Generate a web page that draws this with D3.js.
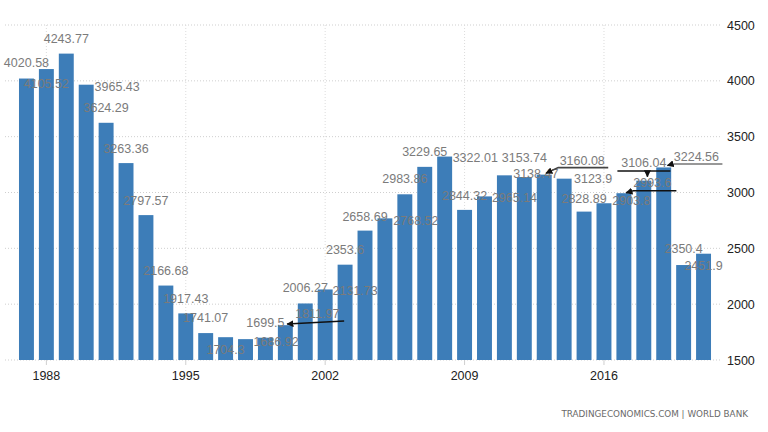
<!DOCTYPE html>
<html>
<head>
<meta charset="utf-8">
<script src="https://d3js.org/d3.v7.min.js"></script>
<style>
    body { margin: 0; background: #fff; }
    svg { display: block; font-family: "Liberation Sans", Arial, sans-serif; }
</style>
</head>
<body>
<div id="chart"></div>
<script>
// yearly values, 1987 - 2021
const years = d3.range(1987, 2022);
const values = [
    4020.58, 4105.52, 4243.77, 3965.43, 3624.29, 3263.36, 2797.57, 2166.68,
    1917.43, 1741.07, 1704.3, 1686.92, 1699.5, 1811.97, 2006.27, 2131.73,
    2353.6, 2658.69, 2768.52, 2983.86, 3229.65, 3322.01, 2844.32, 2965.14,
    3153.74, 3138.47, 3160.08, 3123.9, 2828.89, 2903.8, 2993.6, 3106.04,
    3224.56, 2350.4, 2451.9
];
const yTicks = [1500, 2000, 2500, 3000, 3500, 4000, 4500];
const xTickYears = [1988, 1995, 2002, 2009, 2016];

// where each value label sits relative to its bar top (dx, dy)
const labelShift = [
    [0, -11.5], [0, 19], [0, -10.6], [31, 6], [0, -11], [0, -10.5], [0, -10], [0, -10.6],
    [0, -10.7], [0, -11.4], [0, 17], [30.6, 7], [0, -10.6], [32, -7.5], [0, -11.8], [30, 6],
    [0, -10.7], [0, -10], [31, 6.7], [0, -11], [0, -11], [30.6, 5.8], [0, -9.7], [30, 5.3],
    [20, -13.6], [11.5, 1.3], [38, -9.6], [29, 4.6], [0, -8.3], [27.4, 2], [28.5, -6.5], [0, -14],
    [32.7, -6.7], [0, -11.7], [0, 16]
];

// leader lines, points relative to the bar top centre
const annotations = [
    { year: 2000, pts: [[58.8, -4.2], [1.8, -1.2]], arrow: true, color: "#111" },
    { year: 2013, pts: [[64, -7], [14, -7], [1.8, -1.3]], arrow: true, color: "#444" },
    { year: 2018, pts: [[-26.4, -9.7], [26.6, -9.7]], arrow: false, color: "#111" },
    { year: 2018, pts: [[3.6, -9.7], [3.6, -4]], arrow: true, color: "#111" },
    { year: 2017, pts: [[52.5, -2.5], [9.5, -2.5], [2.2, -0.5]], arrow: true, color: "#111" },
    { year: 2019, pts: [[58.7, -3.4], [8.7, -3.4], [3.7, -1.9]], arrow: true, color: "#777" }
];

const width = 768, height = 432;
const plotLeft = 5, plotRight = 722, plotTop = 25, plotBottom = 360;

const svg = d3.select("#chart").append("svg")
    .attr("width", width)
    .attr("height", height);

const defs = svg.append("defs");
defs.append("marker")
    .attr("id", "head")
    .attr("viewBox", "0 0 10 10")
    .attr("refX", 9).attr("refY", 5)
    .attr("markerWidth", 7).attr("markerHeight", 7)
    .attr("markerUnits", "userSpaceOnUse")
    .attr("orient", "auto")
    .append("path")
    .attr("d", "M0,0 L10,5 L0,10 z")
    .attr("fill", "#111");

const x = d3.scaleBand()
    .domain(years)
    .range([16.5, 713.5])
    .paddingInner(0.25)
    .paddingOuter(0.125);

const y = d3.scaleLinear()
    .domain([1500, 4500])
    .range([plotBottom, plotTop]);

const xc = yr => x(yr) + x.bandwidth() / 2;

// grid
svg.append("g").selectAll("line")
    .data(yTicks)
    .join("line")
    .attr("x1", plotLeft).attr("x2", plotRight)
    .attr("y1", d => y(d)).attr("y2", d => y(d))
    .attr("stroke", "#cfcfcf")
    .attr("stroke-dasharray", "1,2");

svg.append("g").selectAll("line")
    .data(xTickYears)
    .join("line")
    .attr("x1", d => xc(d)).attr("x2", d => xc(d))
    .attr("y1", plotTop).attr("y2", plotBottom)
    .attr("stroke", "#dcdcdc")
    .attr("stroke-dasharray", "1,2");

// bars
svg.append("g").selectAll("rect")
    .data(years)
    .join("rect")
    .attr("x", d => x(d))
    .attr("width", x.bandwidth())
    .attr("y", (d, i) => y(values[i]))
    .attr("height", (d, i) => y(1500) - y(values[i]))
    .attr("fill", "#3d7db8");

// value labels
svg.append("g").selectAll("text")
    .data(years)
    .join("text")
    .attr("x", (d, i) => xc(d) + labelShift[i][0])
    .attr("y", (d, i) => y(values[i]) + labelShift[i][1])
    .attr("text-anchor", "middle")
    .attr("font-size", 12.5)
    .attr("fill", "#7b7b7b")
    .text((d, i) => String(values[i]));

// leader lines
const line = d3.line();
svg.append("g").selectAll("path")
    .data(annotations)
    .join("path")
    .attr("d", a => {
        const i = years.indexOf(a.year);
        const bx = xc(a.year), by = y(values[i]);
        return line(a.pts.map(p => [bx + p[0], by + p[1]]));
    })
    .attr("fill", "none")
    .attr("stroke", a => a.color)
    .attr("stroke-width", 1.6)
    .attr("marker-end", a => a.arrow ? "url(#head)" : null);

// axes
const yAxis = svg.append("g")
    .attr("transform", `translate(${plotRight},0)`)
    .call(d3.axisRight(y).tickValues(yTicks).tickSize(0).tickPadding(5).tickFormat(d3.format("d")));
yAxis.select(".domain").remove();
yAxis.selectAll("text")
    .attr("font-size", 12.5)
    .attr("font-family", "'Liberation Sans', Arial, sans-serif")
    .attr("fill", "#222");

const xAxis = svg.append("g")
    .attr("transform", `translate(0,${plotBottom})`)
    .call(d3.axisBottom(x).tickValues(xTickYears).tickSize(5).tickPadding(6));
xAxis.select(".domain").remove();
xAxis.selectAll("line").attr("stroke", "#cfcfcf");
xAxis.selectAll("text")
    .attr("font-size", 12.5)
    .attr("font-family", "'Liberation Sans', Arial, sans-serif")
    .attr("fill", "#222");

// source
svg.append("text")
    .attr("x", 748)
    .attr("y", 417)
    .attr("text-anchor", "end")
    .attr("font-family", "'DejaVu Sans', Verdana, sans-serif")
    .attr("font-size", 8.8)
    .attr("fill", "#6a6a6a")
    .text("TRADINGECONOMICS.COM | WORLD BANK");
</script>
</body>
</html>
